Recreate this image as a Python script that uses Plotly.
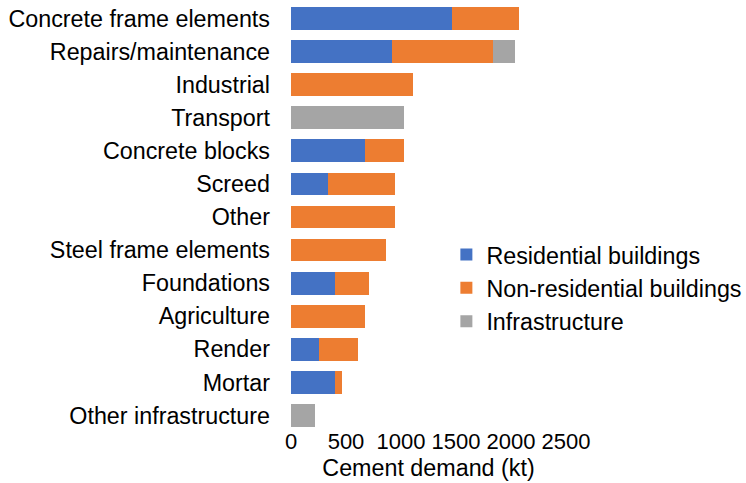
import plotly.graph_objects as go

categories = [
    "Concrete frame elements", "Repairs/maintenance", "Industrial", "Transport",
    "Concrete blocks", "Screed", "Other", "Steel frame elements", "Foundations",
    "Agriculture", "Render", "Mortar", "Other infrastructure",
]
residential = [1460, 920, 0, 0, 675, 335, 0, 0, 400, 0, 255, 400, 0]
non_residential = [610, 920, 1110, 0, 350, 610, 945, 865, 305, 675, 355, 65, 0]
infrastructure = [0, 200, 0, 1025, 0, 0, 0, 0, 0, 0, 0, 0, 220]

x_ticks = [0, 500, 1000, 1500, 2000, 2500]

FONT = "Liberation Sans, Arial, sans-serif"
SIZE = 23.3

fig = go.Figure()
for name, vals, color in [
    ("Residential buildings", residential, "#4472C4"),
    ("Non-residential buildings", non_residential, "#ED7D31"),
    ("Infrastructure", infrastructure, "#A5A5A5"),
]:
    fig.add_trace(go.Bar(
        y=categories, x=vals, name=name, orientation="h",
        marker=dict(color=color, line=dict(width=0)),
    ))

fig.update_layout(
    barmode="stack",
    bargap=0.31,
    width=746, height=483,
    margin=dict(l=291, r=180, t=2, b=51, autoexpand=False),
    paper_bgcolor="white", plot_bgcolor="white",
    font=dict(family=FONT, size=SIZE, color="#000000"),
    legend=dict(
        x=0.565, y=0.463, xanchor="left", yanchor="top",
        traceorder="normal",
        font=dict(size=SIZE), bgcolor="rgba(0,0,0,0)",
        tracegroupgap=0, itemwidth=30,
    ),
    xaxis=dict(
        range=[0, 2500], tickvals=x_ticks, ticktext=[str(v) for v in x_ticks],
        showgrid=False, zeroline=False, showline=False,
        ticks="", tickfont=dict(size=22), ticklabelstandoff=-6,
        title=dict(text="Cement demand (kt)", font=dict(size=SIZE), standoff=6),
    ),
    yaxis=dict(
        autorange="reversed", showgrid=False, zeroline=False, showline=False,
        ticks="", ticklabelstandoff=20, tickfont=dict(size=SIZE),
    ),
)

fig.write_html("out.html")
